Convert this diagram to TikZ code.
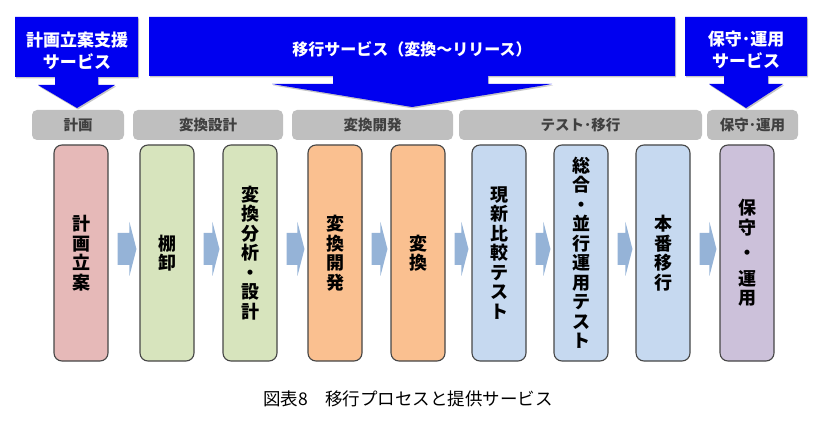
\documentclass[tikz,border=0pt]{standalone}
\usepackage{fontspec}
\newfontfamily\jpfont{Noto Sans CJK JP}
\usetikzlibrary{calc,shadows}

\definecolor{svcblue}{RGB}{0,0,240}
\definecolor{phasegray}{RGB}{191,191,191}
\definecolor{phasetext}{RGB}{64,64,64}
\definecolor{taskline}{RGB}{70,70,70}
\definecolor{flowblue}{RGB}{149,179,215}
\definecolor{planpink}{RGB}{230,185,184}
\definecolor{convgreen}{RGB}{215,228,189}
\definecolor{devorange}{RGB}{250,192,144}
\definecolor{testblue}{RGB}{198,217,240}
\definecolor{opspurple}{RGB}{204,193,218}

\tikzset{
	service/.style = {fill = svcblue, drop shadow = {shadow xshift = 1pt, shadow yshift = -1.5pt, opacity = 0.45}},
	service text/.style = {text = white, align = center, inner sep = 0pt, font = \jpfont\bfseries\fontsize{17}{22}\selectfont},
	phase/.style = {fill = phasegray, rounded corners = 5pt, minimum height = 30pt, inner sep = 0pt, text = phasetext, font = \jpfont\bfseries\fontsize{14.5}{16}\selectfont},
	task/.style = {draw = taskline, line width = 1.1pt, rounded corners = 8pt, minimum width = 54pt, minimum height = 216pt, inner sep = 0pt, align = center, font = \jpfont\bfseries\fontsize{18}{19.5}\selectfont},
	flow/.style = {fill = flowblue}
}

\begin{document}
\begin{tikzpicture} [x = 1pt, y = -1pt]
	\useasboundingbox (0,0) rectangle (826,427);
	% service callouts
	\fill [service] (15,17) -- (138,17) -- (138,77) -- (98,77) -- (98,85) -- (115,85) -- (77,108) -- (38,85) -- (55,85) -- (55,77) -- (15,77) -- cycle;
	\node [service text] (plan svc) at (77,51) {計画立案支援\\サービス};
	\fill [service] (149,17) -- (675,17) -- (675,76) -- (488,76) -- (488,84) -- (552,84) -- (412,107) -- (272,84) -- (333,84) -- (333,76) -- (149,76) -- cycle;
	\node [service text, font = \jpfont\bfseries\fontsize{16}{20}\selectfont] (migr svc) at (412,49) {移行サービス（変換～リリース）};
	\fill [service] (685,17) -- (807,17) -- (807,76) -- (768,76) -- (768,84) -- (783,84) -- (746,108) -- (709,84) -- (724,84) -- (724,76) -- (685,76) -- cycle;
	\node [service text] (ops svc) at (746,50) {保守･運用\\サービス};
	% phases
	\node [phase, minimum width = 92pt] (ph plan) at (78,125) {計画};
	\node [phase, minimum width = 150pt] (ph design) at (208,125) {変換設計};
	\node [phase, minimum width = 161pt] (ph dev) at (372.5,125) {変換開発};
	\node [phase, minimum width = 243pt] (ph test) at (580.5,125) {テスト･移行};
	\node [phase, minimum width = 91pt] (ph ops) at (752.5,125) {保守･運用};
	% tasks
	\node [task, fill = planpink] (plan) at (81,253) {計\\画\\立\\案};
	\node [task, fill = convgreen] (inventory) at (167,253) {棚\\卸};
	\node [task, fill = convgreen] (analysis) at (250,253) {変\\換\\分\\析\\・\\設\\計};
	\node [task, fill = devorange] (develop) at (335,253) {変\\換\\開\\発};
	\node [task, fill = devorange] (convert) at (418,253) {変\\換};
	\node [task, fill = testblue] (compare) at (499,253) {現\\新\\比\\較\\テ\\ス\\ト};
	\node [task, fill = testblue] (parallel) at (581,253) {総\\合\\・\\並\\行\\運\\用\\テ\\ス\\ト};
	\node [task, fill = testblue] (release) at (663,253) {本\\番\\移\\行};
	\node [task, fill = opspurple] (operate) at (747,253) {保\\守\\[6pt]・\\[6pt]運\\用};
	% flow arrows
	\foreach \a/\b in {plan/inventory, inventory/analysis, analysis/develop, develop/convert, convert/compare, compare/parallel, parallel/release, release/operate}
		\fill [flow] ($(\a.east)+(9,-20)$) -- ($(\b.west)+(-10,-20)$) -- ($(\b.west)+(-10,-31)$) -- ($(\b.west)+(-3,-4)$) -- ($(\b.west)+(-10,23)$) -- ($(\b.west)+(-10,12)$) -- ($(\a.east)+(9,12)$) -- cycle;
	% caption
	\node [font = \jpfont\fontsize{17.5}{20}\selectfont] (caption) at (408,399) {図表8　移行プロセスと提供サービス};
\end{tikzpicture}
\end{document}
